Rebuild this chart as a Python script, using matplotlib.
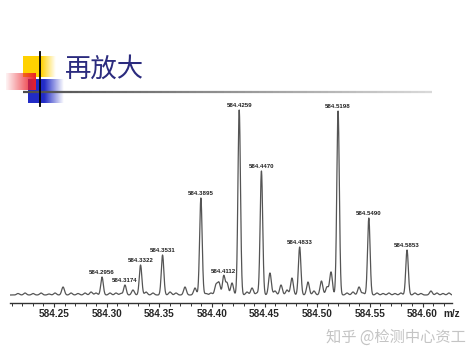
import numpy as np
import matplotlib
matplotlib.use("Agg")
import matplotlib.pyplot as plt
from matplotlib.ticker import MultipleLocator, FixedLocator
from matplotlib.transforms import offset_copy

# labelled peaks (m/z, relative height)
peak_mz = [584.2956, 584.3174, 584.3322, 584.3531, 584.3895, 584.4112,
           584.4259, 584.4470, 584.4833, 584.5198, 584.5490, 584.5853]
peak_h = [18, 10, 30, 40, 97, 19, 185, 124, 48, 184, 77, 45]

# small unlabelled peaks and baseline ripples
minor_mz = [584.2158, 584.2225, 584.2301, 584.2377, 584.2453, 584.2510,
            584.2586, 584.2662, 584.2728, 584.2795, 584.2852, 584.2899,
            584.3032, 584.3089, 584.3136, 584.3250, 584.3374, 584.3440,
            584.3602, 584.3659, 584.3744, 584.3839, 584.3944, 584.3991,
            584.4039, 584.4067, 584.4143, 584.4191, 584.4333, 584.4381,
            584.4428, 584.4551, 584.4599, 584.4656, 584.4713, 584.4760,
            584.4912, 584.4969, 584.5040, 584.5093, 584.5131, 584.5283,
            584.5340, 584.5397, 584.5435, 584.5568, 584.5625, 584.5681,
            584.5738, 584.5795, 584.5928, 584.5985, 584.6080, 584.6137,
            584.6194, 584.6251]
minor_h = [1.5, 2, 1.5, 2, 1, 2,
           8, 2, 1.5, 2, 3, 2,
           2, 2, 1.5, 5, 3, 2,
           3, 2, 8, 7, 1.5, 2,
           10, 12, 12, 12, 3, 7,
           2, 22, 4, 10, 5, 17,
           13, 4, 14, 8, 23, 2,
           3, 8, 2, 2, 1.5, 2,
           1.5, 2, 2, 1.5, 4, 2,
           1.5, 2]

tick_vals = [584.25, 584.30, 584.35, 584.40, 584.45, 584.50, 584.55, 584.60]
tick_text = ["584.25", "584.30", "584.35", "584.40", "584.45", "584.50", "584.55", "584.60"]

W, H = 474, 355
fig = plt.figure(figsize=(W / 100, H / 100), dpi=100)

# decoration layer in pixel coordinates
deco = fig.add_axes([0, 0, 1, 1])
deco.set_xlim(0, W)
deco.set_ylim(H, 0)
deco.axis("off")


def hgrad(ax, x0, x1, y0, y1, rgb, a_left, a_right, solid_frac=0.0, z=1):
    n = 100
    t = np.linspace(0, 1, n)
    alpha = np.where(t < solid_frac, a_left,
                     a_left + (a_right - a_left) * (t - solid_frac) / max(1 - solid_frac, 1e-6))
    img = np.zeros((1, n, 4))
    img[0, :, :3] = rgb
    img[0, :, 3] = alpha
    ax.imshow(img, extent=(x0, x1, y1, y0), aspect="auto", zorder=z, interpolation="bilinear")


hgrad(deco, 23, 56, 56, 77, (1.0, 0.82, 0.0), 1.0, 0.0, solid_frac=0.55, z=1)
hgrad(deco, 28, 64, 79, 103, (0.13, 0.17, 0.78), 1.0, 0.0, solid_frac=0.45, z=2)
hgrad(deco, 6, 36, 73, 90, (0.92, 0.12, 0.16), 0.05, 1.0, solid_frac=0.0, z=3)
deco.plot([40, 40], [52, 106], color="black", lw=1.3, zorder=5)

# title underline fading from dark to light gray
seg_x = np.linspace(23, 432, 60)
for i in range(len(seg_x) - 1):
    g = 0.3 + 0.55 * i / (len(seg_x) - 2)
    deco.plot(seg_x[i:i + 2], [92, 92], color=(g, g, g), lw=1.6,
              solid_capstyle="butt", zorder=4)

deco.text(65, 69, "再放大", fontsize=19, color="#2b2b7e",
          family=["Noto Sans CJK SC", "DejaVu Sans"], va="center", ha="left")
deco.text(396, 337, "知乎 @检测中心资工", fontsize=11, color="#c4c4c4",
          family=["Noto Sans CJK SC", "DejaVu Sans"], va="center", ha="center")

# spectrum
ax = fig.add_axes([10 / W, (H - 303) / H, 442 / W, 203 / H])
ax.patch.set_alpha(0)
xmin, xmax = 584.2082, 584.6280
x = np.linspace(xmin, xmax, 4000)
y = np.zeros_like(x)
for m, h in zip(peak_mz, peak_h):
    y += h * np.exp(-0.5 * ((x - m) / 0.0012) ** 2)
for m, h in zip(minor_mz, minor_h):
    y += h * np.exp(-0.5 * ((x - m) / 0.0013) ** 2)
ax.plot(x, y, color="#555555", lw=0.9)

for m, h in zip(peak_mz, peak_h):
    ax.annotate(f"{m:.4f}", (m, h), xytext=(0, 1.5), textcoords="offset points",
                ha="center", va="bottom", fontsize=4.4, family="Liberation Sans",
                fontweight="bold", color="#222222")

ax.set_xlim(xmin, xmax)
ax.set_ylim(-8, 195)
for s in ["top", "right", "left"]:
    ax.spines[s].set_visible(False)
ax.spines["bottom"].set_linewidth(1.0)
ax.spines["bottom"].set_color("#333333")
ax.set_yticks([])
ax.xaxis.set_major_locator(FixedLocator(tick_vals))
ax.set_xticklabels(tick_text, fontsize=7.2, fontweight="bold", family="Liberation Sans",
                   color="#262626")
ax.xaxis.set_minor_locator(MultipleLocator(0.01))
ax.tick_params(axis="x", which="major", length=3, width=0.8, pad=1.5, color="#333333")
ax.tick_params(axis="x", which="minor", length=2.2, width=0.7, color="#333333")

# axis unit next to the last tick label
ax.text(584.6202, -8, "m/z", fontsize=7.2, fontweight="bold", family="Liberation Sans",
        color="#262626", ha="left", va="top",
        transform=offset_copy(ax.transData, fig=fig, x=0, y=-4.5, units="points"))

fig.savefig("out.png", dpi=100)
